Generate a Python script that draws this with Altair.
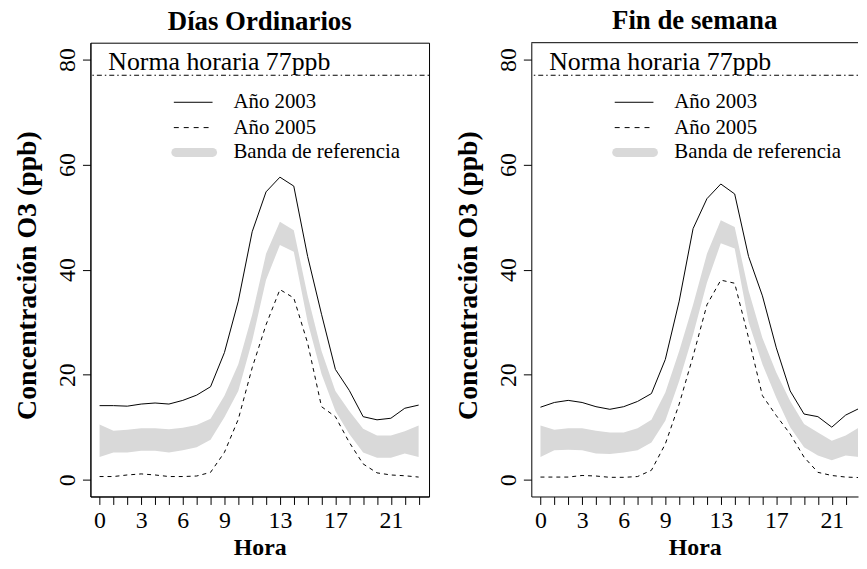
import altair as alt
import pandas as pd

hours = list(range(24))
x_labels = [0, 3, 6, 9, 13, 17, 21]
y_ticks = [0, 20, 40, 60, 80]
panel_titles = ["Días Ordinarios", "Fin de semana"]
legend_labels = ["Año 2003", "Año 2005", "Banda de referencia"]
norma_value = 77
norma_label = "Norma horaria 77ppb"

ord_2003 = [14.1, 14.1, 14.0, 14.4, 14.6, 14.4, 15.1, 16.1, 17.7, 24.2, 34.0, 47.2,
            54.8, 57.6, 55.9, 42.5, 31.5, 21.0, 17.0, 12.0, 11.4, 11.7, 13.6, 14.2]
ord_2005 = [0.6, 0.6, 0.9, 1.1, 0.9, 0.6, 0.6, 0.7, 1.4, 5.2, 11.5, 21.3,
            29.5, 36.2, 34.6, 26.0, 13.9, 12.0, 7.1, 3.0, 1.3, 0.9, 0.75, 0.5]
ord_lo = [4.3, 5.2, 5.2, 5.5, 5.5, 5.2, 5.6, 6.2, 7.6, 11.9, 16.9, 26.4,
          38.0, 44.7, 43.4, 30.0, 20.1, 13.1, 8.7, 5.2, 4.2, 4.2, 5.0, 4.3]
ord_hi = [10.5, 9.3, 9.5, 9.8, 9.8, 9.6, 9.9, 10.4, 11.6, 16.0, 22.0, 31.4,
          43.0, 49.1, 47.5, 35.0, 24.5, 16.9, 13.1, 9.7, 8.4, 8.4, 9.2, 10.3]

fin_2003 = [13.8, 14.7, 15.1, 14.7, 13.9, 13.4, 13.9, 14.9, 16.4, 22.9, 34.0, 47.8,
            53.5, 56.3, 54.4, 42.5, 35.0, 25.1, 16.9, 12.5, 12.0, 10.0, 12.3, 13.6]
fin_2005 = [0.5, 0.5, 0.5, 0.8, 0.7, 0.45, 0.45, 0.6, 1.8, 6.8, 14.4, 23.5,
            33.3, 38.0, 37.4, 27.0, 16.0, 12.2, 8.7, 4.3, 1.4, 0.8, 0.5, 0.4]
fin_lo = [4.3, 5.6, 5.7, 5.6, 5.0, 4.9, 5.2, 5.6, 7.1, 11.2, 18.8, 27.6,
          37.5, 45.0, 44.0, 30.0, 22.0, 15.6, 10.0, 6.2, 4.6, 3.7, 4.6, 4.3]
fin_hi = [10.3, 9.5, 9.8, 9.8, 9.3, 9.0, 9.0, 9.8, 11.4, 16.6, 24.5, 33.3,
          43.0, 49.4, 48.1, 36.0, 27.0, 20.4, 15.0, 10.6, 9.0, 7.4, 8.4, 10.0]

FONT = "Liberation Serif"
GRAY = "#D9D9D9"
H = 457
X_MIN = -0.66
Y_DOM = [-3.2, 83.2]


def panel(title, y03, y05, lo, hi, width, x_max, left_panel):
    df = pd.DataFrame({"hora": hours, "a2003": y03, "a2005": y05, "lo": lo, "hi": hi})
    xs = alt.Scale(domain=[X_MIN, x_max], nice=False, zero=False)
    ys = alt.Scale(domain=Y_DOM, nice=False, zero=False)
    label_expr = "indexof(" + str(x_labels) + ", datum.value) >= 0 ? datum.label : ''"
    xaxis = alt.Axis(values=hours, labelExpr=label_expr, title="Hora")
    yaxis = alt.Axis(values=y_ticks, title="Concentración O3 (ppb)",
                     titleFontSize=28, titleY=234)
    X = alt.X("hora:Q", scale=xs, axis=xaxis)

    def Y(field):
        return alt.Y(field, scale=ys, axis=yaxis)

    base = alt.Chart(df)
    band = base.mark_area(color=GRAY, clip=True).encode(x=X, y=Y("lo:Q"), y2="hi:Q")
    l03 = base.mark_line(color="black", strokeWidth=1, clip=True).encode(x=X, y=Y("a2003:Q"))
    l05 = base.mark_line(color="black", strokeWidth=1, strokeDash=[4, 4], clip=True).encode(
        x=X, y=Y("a2005:Q"))
    ndf = pd.DataFrame({"v": [norma_value], "t": [norma_label]})
    norma = alt.Chart(ndf).mark_rule(color="black", strokeWidth=1, strokeDash=[1.5, 3, 5, 3]).encode(
        y=Y("v:Q"))
    norma_txt = alt.Chart(ndf).mark_text(
        font=FONT, fontSize=26, align="left", baseline="alphabetic", dy=-5, color="black"
    ).encode(x=alt.value(18), y=Y("v:Q"), text="t:N")

    layers = [band, l03, l05, norma, norma_txt]
    rows = [60, 85.5, 110.5]
    for i, lab in enumerate(legend_labels):
        ldf = pd.DataFrame({"t": [lab]})
        layers.append(alt.Chart(ldf).mark_text(
            font=FONT, fontSize=21, align="left", baseline="middle", color="black"
        ).encode(x=alt.value(144), y=alt.value(rows[i]), text="t:N"))
    sdf = pd.DataFrame({"t": [0]})
    layers.append(alt.Chart(sdf).mark_rule(color="black", strokeWidth=1).encode(
        x=alt.value(84), x2=alt.value(123), y=alt.value(rows[0])))
    layers.append(alt.Chart(sdf).mark_rule(color="black", strokeWidth=1, strokeDash=[5, 5]).encode(
        x=alt.value(84), x2=alt.value(123), y=alt.value(rows[1])))
    layers.append(alt.Chart(sdf).mark_rule(color=GRAY, strokeWidth=9, strokeCap="round").encode(
        x=alt.value(86), x2=alt.value(123), y=alt.value(rows[2])))
    if not left_panel:
        layers.append(alt.Chart(sdf).mark_rule(color="black", strokeWidth=1).encode(
            x=alt.value(0), x2=alt.value(width), y=alt.value(0)))

    props = dict(
        width=width, height=H,
        title=alt.TitleParams(title, font=FONT, fontSize=27, fontWeight="bold",
                              anchor="middle", offset=7, color="black"),
    )
    ch = alt.layer(*layers).properties(**props)
    if not left_panel:
        ch = ch.properties(view=alt.ViewBackground(strokeWidth=0))
    return ch


left = panel(panel_titles[0], ord_2003, ord_2005, ord_lo, ord_hi, 341, 23.75, True)
right = panel(panel_titles[1], fin_2003, fin_2005, fin_lo, fin_hi, 329, 22.89, False)

chart = alt.hconcat(left, right, spacing=24).properties(
    padding={"left": 5, "top": -3, "right": 0, "bottom": -3},
    background="white",
).configure_view(
    stroke="black", strokeWidth=1
).configure_axis(
    grid=False,
    domainColor="black", domainWidth=1,
    tickColor="black", tickWidth=1, tickSize=8,
    labelFont=FONT, labelFontSize=24, labelColor="black",
    titleFont=FONT, titleFontSize=24, titleFontWeight="bold", titleColor="black",
    labelOverlap=False, labelFlush=False, labelBound=False,
).configure_axisX(
    labelPadding=4, titlePadding=3,
).configure_axisY(
    labelAngle=270, labelAlign="center", labelBaseline="bottom", labelPadding=3, titlePadding=14,
)

chart.save("out.html", embed_options={"renderer": "svg", "actions": False})
